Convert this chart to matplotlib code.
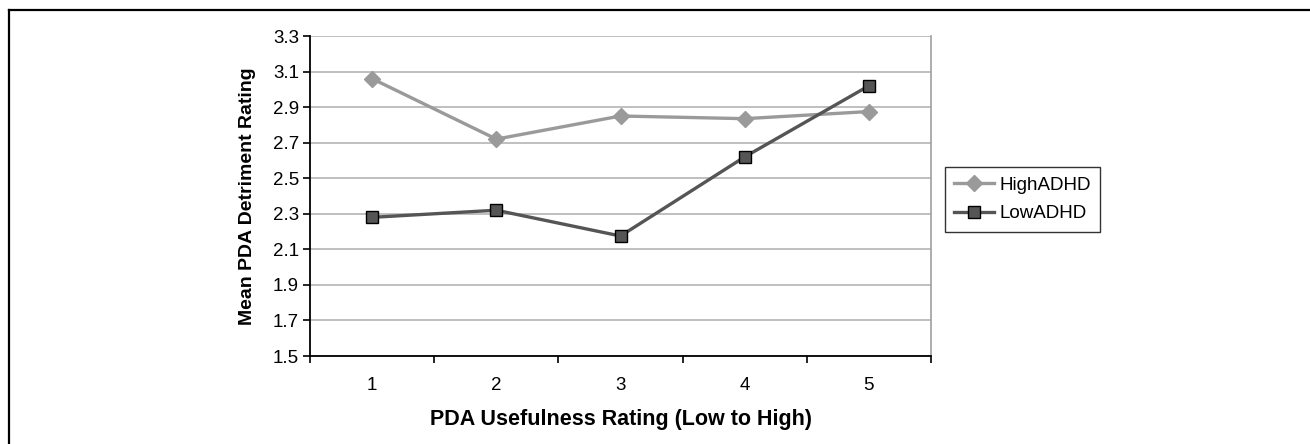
import matplotlib
matplotlib.use("Agg")
import matplotlib.pyplot as plt
from matplotlib.lines import Line2D

plt.rcParams['font.family'] = ['Liberation Sans', 'DejaVu Sans']

categories = [1, 2, 3, 4, 5]
high_adhd = [3.06, 2.72, 2.85, 2.835, 2.875]
low_adhd = [2.28, 2.32, 2.175, 2.62, 3.02]
y_ticks = [1.5, 1.7, 1.9, 2.1, 2.3, 2.5, 2.7, 2.9, 3.1, 3.3]

W, H = 1310, 444
fig = plt.figure(figsize=(W / 100, H / 100), dpi=100)
ax = fig.add_axes([310 / W, 1 - 356 / H, (931 - 310) / W, (356 - 36) / H])

# outer frame (top and left)
fig.add_artist(Line2D([9 / W, 1.0], [1 - 10 / H, 1 - 10 / H], color='black', lw=1.6, transform=fig.transFigure))
fig.add_artist(Line2D([9 / W, 9 / W], [1 - 10 / H, 0.0], color='black', lw=1.6, transform=fig.transFigure))

for y in y_ticks:
    ax.axhline(y, color='#b4b4b4', lw=1.2, zorder=0)

ax.plot(categories, high_adhd, color='#9a9a9a', lw=2.4, marker='D', markersize=8,
        markerfacecolor='#9a9a9a', markeredgecolor='#9a9a9a', label='HighADHD', zorder=3)
ax.plot(categories, low_adhd, color='#555555', lw=2.4, marker='s', markersize=9,
        markerfacecolor='#555555', markeredgecolor='black', markeredgewidth=1.0,
        label='LowADHD', zorder=4)

ax.set_xlim(0.5, 5.5)
ax.set_ylim(1.5, 3.3)
ax.set_yticks(y_ticks)
ax.set_yticklabels([f"{v:.1f}" for v in y_ticks])
ax.set_xticks(categories)
ax.set_xticklabels([str(c) for c in categories])
ax.set_xticks([c - 0.5 for c in categories] + [5.5], minor=True)
ax.tick_params(axis='x', which='major', length=0, pad=15, labelsize=13.5)
ax.tick_params(axis='x', which='minor', length=5, width=1.2, direction='out')
ax.tick_params(axis='y', length=5, width=1.2, direction='out', pad=3, labelsize=13.5)

ax.spines['left'].set_color('black')
ax.spines['left'].set_linewidth(1.3)
ax.spines['bottom'].set_color('black')
ax.spines['bottom'].set_linewidth(1.3)
ax.spines['right'].set_color('#a0a0a0')
ax.spines['right'].set_linewidth(1.2)
ax.spines['top'].set_visible(False)

ax.set_xlabel('PDA Usefulness Rating (Low to High)', fontsize=15.5, fontweight='bold', labelpad=11)
ax.set_ylabel('Mean PDA Detriment Rating', fontsize=14, fontweight='bold', labelpad=12)

leg = ax.legend(loc='center left', bbox_to_anchor=(945 / W, 1 - 199.5 / H),
                bbox_transform=fig.transFigure, frameon=True, fancybox=False,
                fontsize=13.5, handlelength=2.1, borderpad=0.5, labelspacing=0.6,
                handletextpad=0.3, borderaxespad=0)
leg.get_frame().set_edgecolor('black')
leg.get_frame().set_linewidth(1.0)

fig.savefig('out.png', dpi=100, facecolor='white')
